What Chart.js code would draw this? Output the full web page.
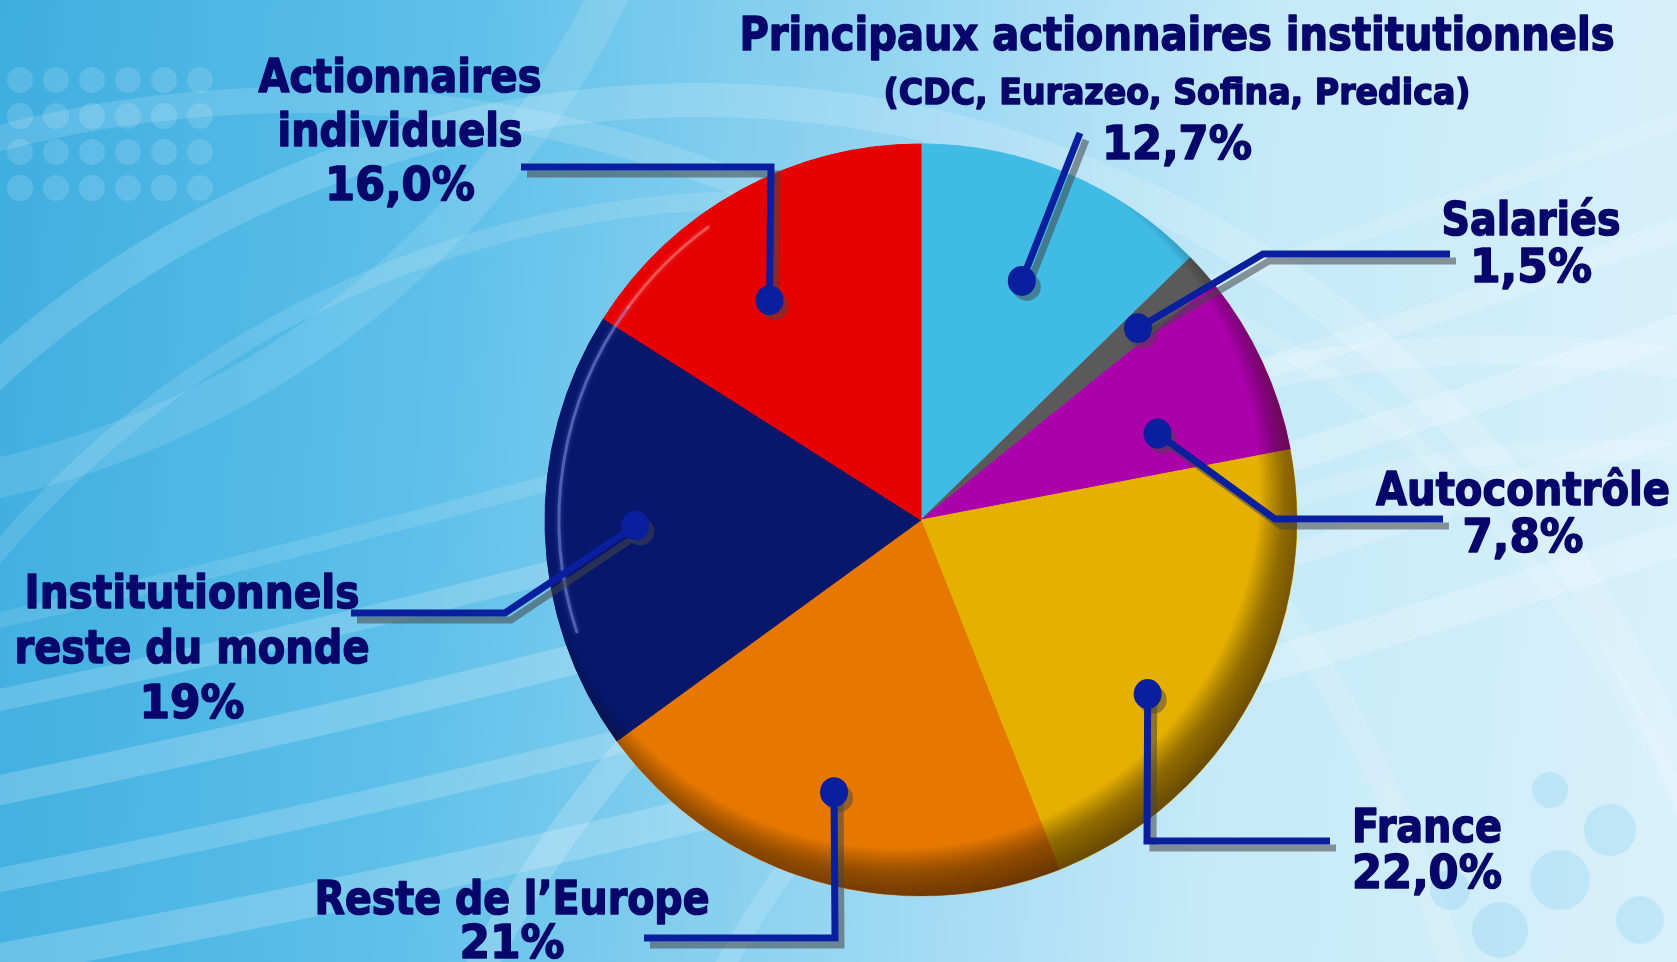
<!DOCTYPE html>
<html><head><meta charset="utf-8">
<script src="https://cdn.jsdelivr.net/npm/chart.js@4.4.0/dist/chart.umd.min.js"></script>
<style>
html,body{margin:0;padding:0;width:1677px;height:962px;overflow:hidden;}
body{background:linear-gradient(95deg,#3eaee0 0%,#5cbfe9 25%,#92d4f1 50%,#c4e9f8 72%,#d9f1fb 100%);}
#wrap{position:absolute;left:0;top:0;width:1677px;height:962px;}
</style></head><body><div id="wrap"><canvas id="c" width="1677" height="962"></canvas></div>
<script>
// ---- data ----
const categories = ["Principaux actionnaires institutionnels (CDC, Eurazeo, Sofina, Predica)", "Salariés", "Autocontrôle", "France", "Reste de l’Europe", "Institutionnels reste du monde", "Actionnaires individuels"];
const shares = [12.7, 1.5, 7.8, 22.0, 21, 19, 16.0];
const shareLabels = ["12,7%", "1,5%", "7,8%", "22,0%", "21%", "19%", "16,0%"];
const nameLines = [["Principaux actionnaires institutionnels", "(CDC, Eurazeo, Sofina, Predica)"], ["Salariés"], ["Autocontrôle"], ["France"], ["Reste de l’Europe"], ["Institutionnels", "reste du monde"], ["Actionnaires", "individuels"]];
const sliceColors = ["#3fbbe6", "#5a5a5a", "#ac00ac", "#e6b000", "#e67800", "#06176c", "#e60000"];

// ---- label layout (positions/styles only) ----
const labelLayout = [
  {f:0.50, rf:0.69, path:[[1080,133]], align:"center", x:1177, rows:[{bl:50,w:875,s:46},{bl:104,w:587,s:36},{bl:159,w:150,s:46}]},
  {f:0.52, rf:0.77, path:[[1263,254],[1450,254]], align:"center", x:1531, rows:[{bl:235,w:179,s:46},{bl:282,w:122,s:46}]},
  {f:0.67, rf:0.67, path:[[1275,519],[1443,519]], align:"center", x:1523, rows:[{bl:505,w:294,s:46},{bl:552,w:121,s:46}]},
  {f:0.61, rf:0.76, path:[[1147,841],[1330,841]], align:"left", x:1352, rows:[{bl:842,w:150,s:46},{bl:888,w:150,s:46}]},
  {f:0.52, rf:0.76, path:[[835,938],[644,938]], align:"center", x:512, rows:[{bl:914,w:395,s:46},{bl:958,w:105,s:46}]},
  {f:0.51, rf:0.76, path:[[505,613],[351,613]], align:"center", x:192, rows:[{bl:608,w:335,s:46},{bl:663,w:355,s:46},{bl:718,w:105,s:46}]},
  {f:0.40, rf:0.71, path:[[771,167],[521,167]], align:"center", x:400, rows:[{bl:92,w:283,s:46},{bl:146,w:245,s:46},{bl:200,w:150,s:46}]}
];
const TEXT_COLOR = "#07066a";
const LINE_COLOR = "#0a1f9e";

const bgPlugin = {
  id:"bg",
  beforeDraw(chart){
    const ctx = chart.ctx;
    ctx.save();
    ctx.lineCap = "round";
    const arcs = [
      [700,1150,1050,0.16,34],[760,1200,1000,0.12,18],[300,1300,1200,0.14,26],
      [1500,1500,1150,0.18,30],[1600,1450,1000,0.14,20],[-200,-400,900,0.12,40]
    ];
    arcs.forEach(([x,y,r,a,w])=>{ctx.beginPath();ctx.arc(x,y,r,0,Math.PI*2);ctx.strokeStyle=`rgba(255,255,255,${a})`;ctx.lineWidth=w;ctx.stroke();});
    const bands = [[0,700,1677,230,0.18,22],[0,790,1677,330,0.2,30],[0,880,1677,430,0.18,24],[0,960,1677,540,0.2,34],[0,620,1677,120,0.12,16]];
    bands.forEach(([x1,y1,x2,y2,a,w])=>{ctx.beginPath();ctx.moveTo(x1,y1);ctx.quadraticCurveTo((x1+x2)/2,(y1+y2)/2+60,x2,y2);ctx.strokeStyle=`rgba(255,255,255,${a})`;ctx.lineWidth=w;ctx.stroke();});
    ctx.fillStyle="rgba(255,255,255,0.14)";
    for(let i=0;i<6;i++){for(let j=0;j<4;j++){ctx.beginPath();ctx.arc(20+i*36,80+j*36,13,0,Math.PI*2);ctx.fill();}}
    ctx.fillStyle="rgba(120,200,235,0.25)";
    [[1560,880,30],[1610,830,26],[1500,930,28],[1640,920,24],[1550,790,18],[1450,890,20]].forEach(([x,y,r])=>{ctx.beginPath();ctx.arc(x,y,r,0,Math.PI*2);ctx.fill();});
    ctx.restore();
  }
};

const decoPlugin = {
  id:"deco",
  afterDatasetsDraw(chart){
    const ctx = chart.ctx;
    const meta = chart.getDatasetMeta(0);
    const a0 = meta.data[0].getProps(['x','y','outerRadius'], true);
    const cx=a0.x, cy=a0.y, R=a0.outerRadius;
    ctx.save();
    ctx.beginPath(); ctx.arc(cx,cy,R,0,Math.PI*2); ctx.clip();
    const gx=cx-22, gy=cy-32, gr=R+36;
    const g = ctx.createRadialGradient(gx,gy,0,gx,gy,gr);
    g.addColorStop(0,"rgba(0,0,0,0)");
    g.addColorStop((R-16)/gr,"rgba(0,0,0,0)");
    g.addColorStop((R+10)/gr,"rgba(40,20,0,0.45)");
    g.addColorStop(1,"rgba(30,15,0,0.62)");
    ctx.fillStyle=g; ctx.fillRect(cx-R,cy-R,2*R,2*R);
    // subtle highlight on upper-left rim
    ctx.lineCap="round";
    ctx.shadowColor="rgba(255,255,255,0.5)"; ctx.shadowBlur=5;
    ctx.strokeStyle="rgba(140,160,255,0.45)"; ctx.lineWidth=3;
    ctx.beginPath(); ctx.arc(cx,cy,R-14,Math.PI*0.9,Math.PI*1.2); ctx.stroke();
    ctx.strokeStyle="rgba(255,150,150,0.45)";
    ctx.beginPath(); ctx.arc(cx,cy,R-14,Math.PI*1.2,Math.PI*1.3); ctx.stroke();
    ctx.restore();

    const dots = meta.data.map((arc,i)=>{
      const p = arc.getProps(['x','y','startAngle','endAngle','outerRadius'], true);
      const L = labelLayout[i];
      const a = p.startAngle + L.f*(p.endAngle-p.startAngle);
      const r = p.outerRadius*L.rf;
      return [p.x+r*Math.cos(a), p.y+r*Math.sin(a)];
    });
    ctx.save();
    ctx.lineJoin="miter"; ctx.lineCap="butt";
    labelLayout.forEach((L,i)=>{
      const pts=[dots[i],...L.path];
      ctx.beginPath();
      pts.forEach((p,k)=>{k?ctx.lineTo(p[0]+6,p[1]+7):ctx.moveTo(p[0]+6,p[1]+7);});
      ctx.strokeStyle="rgba(70,70,70,0.55)"; ctx.lineWidth=7; ctx.stroke();
      ctx.beginPath(); ctx.arc(dots[i][0]+5,dots[i][1]+6,14,0,Math.PI*2);
      ctx.fillStyle="rgba(70,70,70,0.5)"; ctx.fill();
    });
    labelLayout.forEach((L,i)=>{
      const pts=[dots[i],...L.path];
      ctx.beginPath();
      pts.forEach((p,k)=>{k?ctx.lineTo(p[0],p[1]):ctx.moveTo(p[0],p[1]);});
      ctx.strokeStyle=LINE_COLOR; ctx.lineWidth=7; ctx.stroke();
      ctx.beginPath(); ctx.ellipse(dots[i][0],dots[i][1],14,15,0,0,Math.PI*2);
      ctx.fillStyle=LINE_COLOR; ctx.fill();
    });
    ctx.restore();
  },
  afterDraw(chart){
    const ctx = chart.ctx;
    ctx.save();
    ctx.fillStyle=TEXT_COLOR;
    ctx.strokeStyle=TEXT_COLOR;
    ctx.lineJoin="round";
    ctx.textBaseline="alphabetic";
    labelLayout.forEach((L,i)=>{
      const texts=[...nameLines[i], shareLabels[i]];
      texts.forEach((t,k)=>{
        const row=L.rows[k];
        ctx.font=`bold ${row.s}px "DejaVu Sans"`;
        const w=ctx.measureText(t).width;
        const sx=row.w/w;
        ctx.save();
        ctx.translate(L.x,row.bl);
        ctx.scale(sx,1);
        ctx.textAlign=L.align;
        ctx.lineWidth=1.6;
        ctx.fillText(t,0,0);
        ctx.strokeText(t,0,0);
        ctx.restore();
      });
    });
    ctx.restore();
  }
};

new Chart(document.getElementById("c"),{
  type:"pie",
  data:{labels:categories,datasets:[{data:shares,backgroundColor:sliceColors,borderColor:sliceColors,borderWidth:1,hoverOffset:0}]},
  options:{
    responsive:false,animation:false,
    radius:376,
    layout:{padding:{left:545,right:380,top:144,bottom:66}},
    plugins:{legend:{display:false},tooltip:{enabled:false}},
    events:[]
  },
  plugins:[bgPlugin,decoPlugin]
});
</script></body></html>
